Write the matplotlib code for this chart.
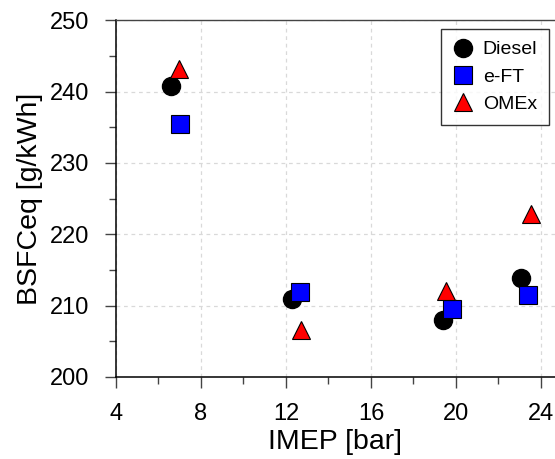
import numpy as np
import matplotlib.pyplot as plt
from matplotlib.ticker import MultipleLocator

plt.rcParams['font.family'] = ['Liberation Sans', 'DejaVu Sans']

# ------------------- data -------------------
imep_diesel = [6.6, 12.3, 19.4, 23.05]
bsfc_diesel = [240.8, 210.9, 207.9, 213.9]

imep_eft = [7.0, 12.65, 19.8, 23.4]
bsfc_eft = [235.4, 211.9, 209.5, 211.5]

imep_omex = [6.95, 12.7, 19.55, 23.55]
bsfc_omex = [243.1, 206.6, 212.1, 222.8]

# ------------------- plot -------------------
fig = plt.figure(figsize=(5.55, 4.59), dpi=100)
ax = fig.add_axes([0.209, 0.179, 0.791, 0.777])

ms = 13
ax.plot(imep_diesel, bsfc_diesel, 'o', color='black', markersize=ms, label='Diesel', zorder=3)
ax.plot(imep_eft, bsfc_eft, 's', markerfacecolor='blue', markeredgecolor='black',
        markeredgewidth=0.8, markersize=ms, label='e-FT', zorder=3)
ax.plot(imep_omex, bsfc_omex, '^', markerfacecolor='red', markeredgecolor='black',
        markeredgewidth=0.8, markersize=ms, label='OMEx', zorder=3)

ax.set_xlim(4, 24.66)
ax.set_ylim(200, 250)
ax.xaxis.set_major_locator(MultipleLocator(4))
ax.xaxis.set_minor_locator(MultipleLocator(2))
ax.yaxis.set_major_locator(MultipleLocator(10))
ax.yaxis.set_minor_locator(MultipleLocator(5))

ax.grid(True, which='major', linestyle=(0, (3, 3)), color='#d9d9d9', linewidth=0.9)
ax.set_axisbelow(True)

ax.spines['right'].set_visible(False)
for s in ['left', 'bottom']:
    ax.spines[s].set_linewidth(1.1)
ax.spines['top'].set_linewidth(1.0)
ax.spines['top'].set_color('#444444')

ax.tick_params(which='major', direction='out', length=8, width=1.0, color='#444444',
               labelsize=17, pad=11, top=False, right=False)
ax.tick_params(which='minor', direction='out', length=5, width=1.0, color='#444444',
               top=False, right=False)

ax.set_xlabel('IMEP [bar]', fontsize=20.5, labelpad=3)
ax.set_ylabel('BSFCeq [g/kWh]', fontsize=20.5, labelpad=5)

leg = ax.legend(loc='upper right', bbox_to_anchor=(0.986, 0.975), fontsize=14,
                frameon=True, fancybox=False, handletextpad=0.45, borderpad=0.6,
                labelspacing=0.5, handlelength=1.1, borderaxespad=0)
leg.get_frame().set_edgecolor('black')
leg.get_frame().set_linewidth(1.0)

fig.savefig('out.png', dpi=100)
